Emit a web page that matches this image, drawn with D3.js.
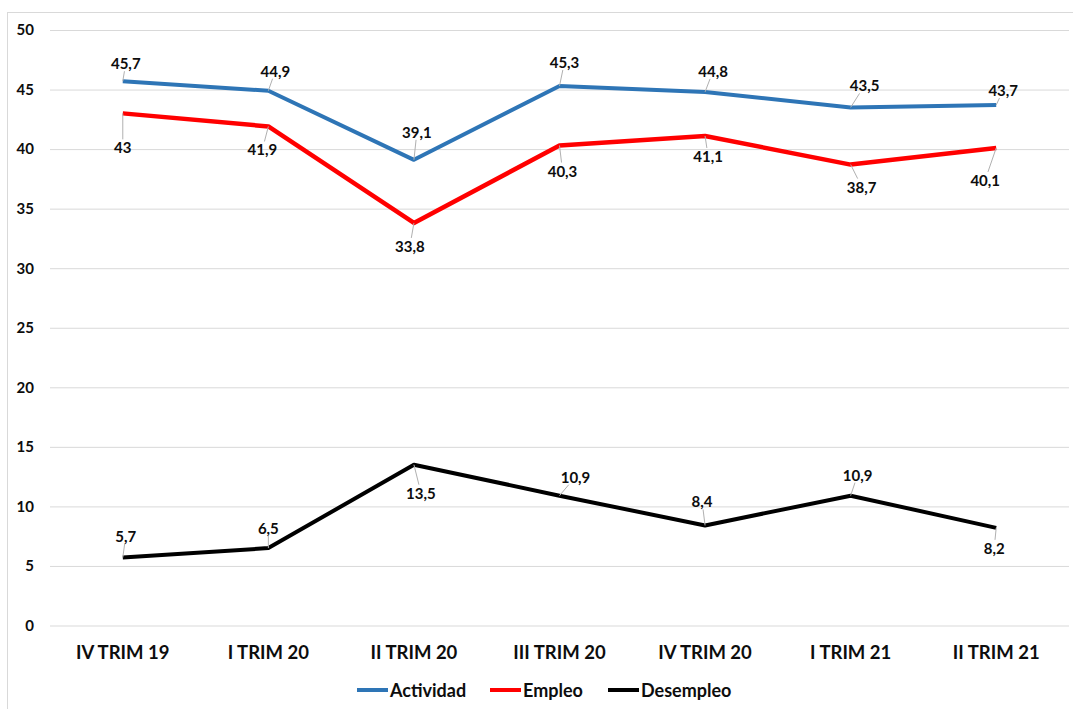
<!DOCTYPE html>
<html><head><meta charset="utf-8">
<script src="https://cdn.jsdelivr.net/npm/d3@7"></script>
<style>body{margin:0;background:#fff}svg{display:block}text{font-family:Lato,"Open Sans",sans-serif;font-weight:700;fill:#0d0d0d}</style>
</head><body>
<svg id="c" width="1073" height="709"></svg>
<script>
const categories = ["IV TRIM 19","I TRIM 20","II TRIM 20","III TRIM 20","IV TRIM 20","I TRIM 21","II TRIM 21"];
const actividad = [45.7,44.9,39.1,45.3,44.8,43.5,43.7];
const empleo = [43,41.9,33.8,40.3,41.1,38.7,40.1];
const desempleo = [5.7,6.5,13.5,10.9,8.4,10.9,8.2];
const yTicks = [0,5,10,15,20,25,30,35,40,45,50];
const seriesNames = ["Actividad","Empleo","Desempleo"];
const seriesColors = ["#2e75b6","#ff0000","#000000"];
// label offsets (dx, dy from point to label centre)
const actOffsets = [[3,-18],[7,-20],[3,-28],[5,-24],[8,-21],[14,-22],[7,-15]];
const empOffsets = [[0,34],[-6,23],[-4,23],[3,25],[3,20],[11,22],[-11,32]];
const desOffsets = [[3,-22],[0,-20],[7,28],[16,-19],[-3,-24],[7,-21],[-2,20]];

const svg = d3.select("#c");
const M = {left:50, right:1069, top:30, bottom:625.5};
svg.append("rect").attr("x",7.5).attr("y",12.5).attr("width",1100).attr("height",720)
  .attr("fill","none").attr("stroke","#d9d9d9");

const x = d3.scaleBand().domain(categories).range([M.left,M.right]);
const y = d3.scaleLinear().domain([0,50]).range([M.bottom,M.top]);
const cx = c => x(c)+x.bandwidth()/2;

const yAxis = svg.append("g").attr("transform",`translate(${M.left},0)`)
  .call(d3.axisLeft(y).tickValues(yTicks).tickSize(-(M.right-M.left)).tickPadding(16));
yAxis.select(".domain").remove();
yAxis.selectAll(".tick line").attr("stroke","#d9d9d9").attr("stroke-width",1);
yAxis.selectAll(".tick text").attr("font-size",15).attr("fill","#0d0d0d")
  .style("font-family","Lato, sans-serif").style("font-weight",700);

const xAxis = svg.append("g").attr("transform",`translate(0,${M.bottom})`)
  .call(d3.axisBottom(x).tickSize(0).tickPadding(20));
xAxis.select(".domain").remove();
xAxis.selectAll(".tick text").attr("font-size",18.5).attr("fill","#0d0d0d")
  .style("font-family","Lato, sans-serif").style("font-weight",700);

const allSeries = [actividad, empleo, desempleo];
const allOffsets = [actOffsets, empOffsets, desOffsets];
const widths = [4,4.5,4];
const line = d3.line().x((d,i)=>cx(categories[i])).y(d=>y(d));

allSeries.forEach((vals,s)=>{
  svg.append("path").datum(vals).attr("d",line).attr("fill","none")
    .attr("stroke",seriesColors[s]).attr("stroke-width",widths[s]).attr("stroke-linejoin","round");
});

// labels + leader lines
allSeries.forEach((vals,s)=>{
  const g = svg.append("g");
  vals.forEach((v,i)=>{
    const px = cx(categories[i]), py = y(v);
    const [dx,dy] = allOffsets[s][i];
    const t = g.append("text").attr("x",px+dx).attr("y",py+dy).attr("text-anchor","middle")
      .attr("dominant-baseline","central").attr("font-size",15).text(String(v).replace(".",","));
    const bb = t.node().getBBox();
    const lx = px+dx, ly = py+dy;
    const hw = bb.width/2+2, hh = bb.height/2-1;
    const vx = px-lx, vy = py-ly;
    const sc = Math.min(Math.abs(vx)>0?hw/Math.abs(vx):Infinity, Math.abs(vy)>0?hh/Math.abs(vy):Infinity);
    const ex = lx+vx*sc, ey = ly+vy*sc;
    const len = Math.hypot(ex-px, ey-py);
    if (len>6) {
      g.insert("line","text").attr("x1",px).attr("y1",py).attr("x2",ex).attr("y2",ey)
        .attr("stroke","#b0b0b0").attr("stroke-width",1);
    }
  });
});

// legend
const legX = [357,490,608];
const lg = svg.append("g");
seriesNames.forEach((n,i)=>{
  lg.append("line").attr("x1",legX[i]).attr("x2",legX[i]+31).attr("y1",690).attr("y2",690)
    .attr("stroke",seriesColors[i]).attr("stroke-width",4);
  lg.append("text").attr("x",legX[i]+33).attr("y",690).attr("dominant-baseline","central")
    .attr("font-size",18).text(n);
});
</script>
</body></html>
